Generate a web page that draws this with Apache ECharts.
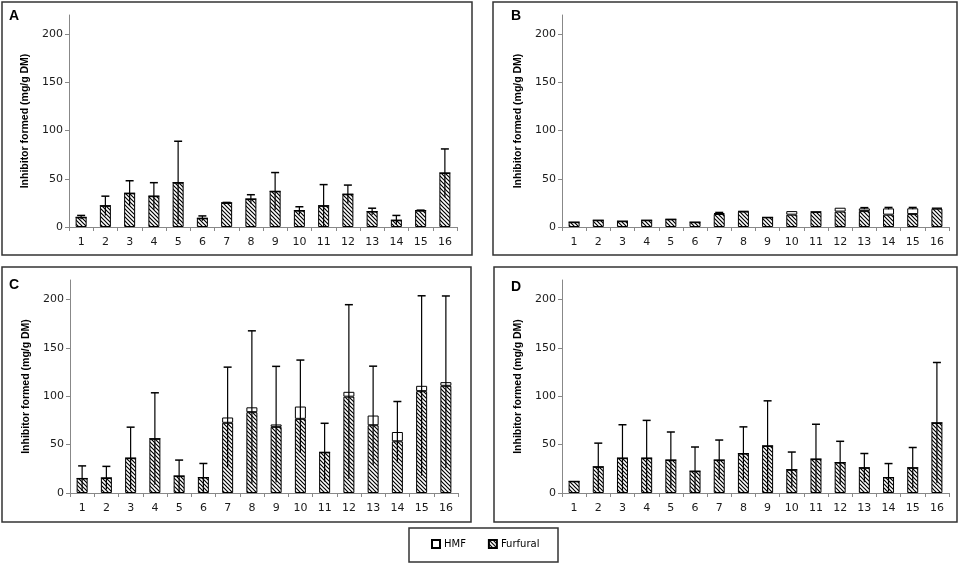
<!DOCTYPE html>
<html>
<head>
<meta charset="utf-8">
<script src="https://cdn.jsdelivr.net/npm/echarts@6/dist/echarts.min.js"></script>
<style>
html,body{margin:0;padding:0;background:#fff;}
#chart{width:964px;height:564px;}
</style>
</head>
<body>
<div id="chart"></div>
<script>
// ---- data ----
const categories = ['1','2','3','4','5','6','7','8','9','10','11','12','13','14','15','16'];
const yTicks = [0, 50, 100, 150, 200];
const panelLabels = ['A', 'B', 'C', 'D'];

const aFurfural = [10, 22, 35, 32, 46, 9, 25, 29, 37, 17, 22, 34, 16, 7, 17, 56];
const aHmf      = [0, 0, 0, 0, 0, 0, 0, 0, 0, 0, 0, 0, 0, 0, 0, 0];
const aErr      = [2, 10, 13, 14, 43, 2.5, 0.5, 4.5, 19.5, 4, 22, 9.5, 3.5, 5, 0.5, 25];

const bFurfural = [5, 7, 6, 7, 8, 5, 13.5, 16, 10, 12.8, 15.5, 16, 16.5, 12.8, 13.4, 19];
const bHmf      = [0, 0, 0, 0, 0, 0, 1, 0.5, 0, 3.7, 0.4, 4, 2.8, 6.5, 6, 1];
const bErr      = [0, 0, 0, 0, 0, 0, 0.6, 0, 0, 0, 0, 0, 0.8, 1, 0.9, 0];

const cFurfural = [15, 15.5, 36, 56, 17.5, 16, 72.5, 83.5, 68.3, 76.6, 42, 99.5, 70, 53.4, 105.2, 110.7];
const cHmf      = [0, 0, 0, 0, 0, 0, 5.5, 5, 2.5, 12.7, 0, 5, 10, 9.6, 5.5, 3.8];
const cErr      = [13, 12, 32, 47.5, 16.5, 14.5, 52, 79, 60, 48, 30, 90, 51, 31.5, 93, 89];

const dFurfural = [12, 27, 36, 36, 34, 22.5, 34, 40.7, 48.6, 24, 35, 31.4, 26, 16, 26, 72.4];
const dHmf      = [0, 0, 0, 0, 0, 0, 0, 0, 0, 0, 0, 0, 0, 0, 0, 0];
const dErr      = [0, 24.5, 34.5, 39, 29, 25, 20.7, 27.6, 46.6, 18.3, 36, 22, 14.8, 14.4, 21, 62.4];

const panels = [
  {furfural: aFurfural, hmf: aHmf, err: aErr},
  {furfural: bFurfural, hmf: bHmf, err: bErr},
  {furfural: cFurfural, hmf: cHmf, err: cErr},
  {furfural: dFurfural, hmf: dHmf, err: dErr}
];

// ---- layout ----
const grids = [
  {left: 69,  top: 15,  width: 388, height: 212},
  {left: 562, top: 15,  width: 387, height: 212},
  {left: 70,  top: 280, width: 388, height: 213},
  {left: 562, top: 280, width: 387, height: 213}
];
const boxes = [
  {x: 2,   y: 2,   w: 470, h: 253},
  {x: 493, y: 2,   w: 464, h: 253},
  {x: 2,   y: 267, w: 469, h: 255},
  {x: 494, y: 267, w: 463, h: 255}
];
const letterPos = [[9, 9], [511, 9], [9, 278], [511, 280]];

function makeHatch() {
  const c = document.createElement('canvas');
  c.width = 4; c.height = 4;
  const g = c.getContext('2d');
  g.fillStyle = '#fff';
  g.fillRect(0, 0, 4, 4);
  g.strokeStyle = '#000';
  g.lineWidth = 1.2;
  g.beginPath();
  g.moveTo(-1, -1); g.lineTo(5, 5);
  g.moveTo(-1, 3); g.lineTo(1, 5);
  g.moveTo(3, -1); g.lineTo(5, 1);
  g.stroke();
  return c;
}
const hatch = {image: makeHatch(), repeat: 'repeat'};

const tickFont = {fontFamily: 'DejaVu Sans', fontSize: 11, color: '#1a1a1a'};

const xAxes = [], yAxes = [], series = [], graphics = [];
grids.forEach((g, i) => {
  xAxes.push({
    type: 'category', gridIndex: i, data: categories,
    axisLine: {lineStyle: {color: '#888', width: 1}},
    axisTick: {show: true, length: 4, lineStyle: {color: '#888'}},
    axisLabel: Object.assign({margin: 10, interval: 0}, tickFont)
  });
  yAxes.push({
    type: 'value', gridIndex: i, min: 0, max: 220,
    name: 'Inhibitor formed (mg/g DM)',
    nameLocation: 'middle', nameGap: 38, nameRotate: 90,
    nameTextStyle: {fontFamily: 'Liberation Sans', fontWeight: 'bold', fontSize: 10.5, color: '#000'},
    axisLine: {show: true, lineStyle: {color: '#888', width: 1}},
    axisTick: {show: true, length: 4, lineStyle: {color: '#888'}, customValues: yTicks},
    axisLabel: Object.assign({margin: 6, customValues: yTicks}, tickFont),
    splitLine: {show: false}
  });
  const p = panels[i];
  series.push({
    name: 'Furfural', type: 'bar', stack: 's' + i, xAxisIndex: i, yAxisIndex: i,
    data: p.furfural, barWidth: 11,
    itemStyle: {color: hatch, borderColor: '#000', borderWidth: 1}
  });
  series.push({
    name: 'HMF', type: 'bar', stack: 's' + i, xAxisIndex: i, yAxisIndex: i,
    data: p.hmf, barWidth: 11,
    itemStyle: {color: '#fff', borderColor: '#000', borderWidth: 1}
  });
  const errData = p.furfural.map((f, k) => [k, f + p.hmf[k], p.err[k]]);
  series.push({
    type: 'custom', xAxisIndex: i, yAxisIndex: i, z: 5,
    data: errData, encode: {x: 0, y: 1},
    renderItem: function (params, api) {
      const x = api.value(0), t = api.value(1), e = api.value(2);
      if (!e) return;
      const top = api.coord([x, t + e]);
      const bot = api.coord([x, Math.max(0, t - e)]);
      return {
        type: 'group',
        children: [
          {type: 'line', shape: {x1: top[0], y1: top[1], x2: bot[0], y2: bot[1]}, style: {stroke: '#000', lineWidth: 1.2}},
          {type: 'line', shape: {x1: top[0] - 4, y1: top[1], x2: top[0] + 4, y2: top[1]}, style: {stroke: '#000', lineWidth: 1.5}}
        ]
      };
    }
  });
  const b = boxes[i];
  graphics.push({
    type: 'rect', shape: {x: b.x, y: b.y, width: b.w, height: b.h},
    style: {fill: 'none', stroke: '#333', lineWidth: 1.5}, silent: true
  });
  graphics.push({
    type: 'text', x: letterPos[i][0], y: letterPos[i][1],
    style: {text: panelLabels[i], font: 'bold 14px "Liberation Sans"', fill: '#000'}
  });
});
graphics.push({
  type: 'rect', shape: {x: 409, y: 528, width: 149, height: 34},
  style: {fill: 'none', stroke: '#333', lineWidth: 1.5}, silent: true
});

const chart = echarts.init(document.getElementById('chart'), null, {renderer: 'canvas'});
chart.setOption({
  animation: false,
  backgroundColor: '#fff',
  grid: grids,
  xAxis: xAxes,
  yAxis: yAxes,
  series: series,
  graphic: graphics,
  legend: {
    data: ['HMF', 'Furfural'],
    left: 431, top: 539,
    icon: 'rect', itemWidth: 8, itemHeight: 8, itemGap: 22,
    padding: 0,
    textStyle: {fontFamily: 'DejaVu Sans', fontSize: 10, color: '#000', padding: [0, 0, 0, -1]},
    selectedMode: false
  }
});
</script>
</body>
</html>
